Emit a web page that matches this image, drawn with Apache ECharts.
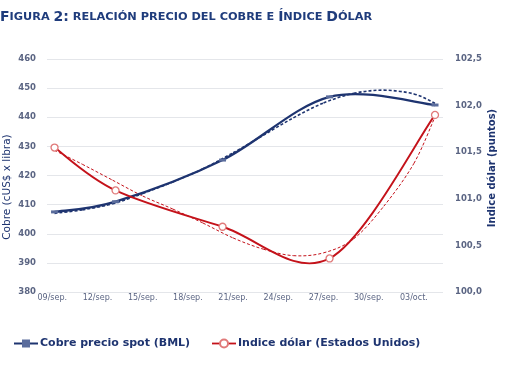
<!DOCTYPE html>
<html>
<head>
<meta charset="utf-8">
<script src="https://cdn.jsdelivr.net/npm/echarts@6/dist/echarts.min.js"></script>
<style>html,body{margin:0;padding:0;background:#fff;}#c{width:510px;height:382px;}</style>
</head>
<body>
<div id="c"></div>
<script>
// Tick labels (every 3 days starting 09/sep)
const tickDays = [0, 3, 6, 9, 12, 15, 18, 21, 24];
const tickLabels = ['09/sep.', '12/sep.', '15/sep.', '18/sep.', '21/sep.', '24/sep.', '27/sep.', '30/sep.', '03/oct.'];
const obsDays = [0.15, 4.2, 11.3, 18.4, 25.4];
const cobre = [407.5, 411.0, 425.3, 447.0, 444.2];
const dolar = [101.55, 101.09, 100.70, 100.36, 101.90];
// Trend lines
const trendDays = [0.15, 2, 4, 6, 8, 10, 12, 14, 16, 18, 20, 22, 24, 25.4];
const cobreTrend = [407.0, 408.2, 410.3, 413.8, 417.8, 422.3, 427.8, 433.8, 439.8, 444.9, 448.2, 449.3, 448.0, 444.8];
const dolarTrend = [101.52, 101.37, 101.20, 101.03, 100.89, 100.74, 100.58, 100.46, 100.39, 100.42, 100.57, 100.92, 101.38, 101.88];

const zip = (xs, ys) => xs.map((x, i) => [x, ys[i]]);
const navy = '#1e3470';
const red = '#c4121a';
const lblColor = '#5b6583';
const titleColor = '#1f3c7c';

// Excel-style smoothed line (Catmull-Rom through the data points, converted by the axes)
function smoothCurve(xs, ys, lineStyle) {
  return function (params, api) {
    if (params.dataIndex !== 0) return null;
    const p = xs.map((x, i) => api.coord([x, ys[i]]));
    const children = [];
    for (let i = 0; i < p.length - 1; i++) {
      const p0 = p[Math.max(i - 1, 0)], p1 = p[i], p2 = p[i + 1], p3 = p[Math.min(i + 2, p.length - 1)];
      children.push({
        type: 'bezierCurve',
        shape: {
          x1: p1[0], y1: p1[1], x2: p2[0], y2: p2[1],
          cpx1: p1[0] + (p2[0] - p0[0]) / 6, cpy1: p1[1] + (p2[1] - p0[1]) / 6,
          cpx2: p2[0] - (p3[0] - p1[0]) / 6, cpy2: p2[1] - (p3[1] - p1[1]) / 6
        },
        style: Object.assign({fill: null}, lineStyle)
      });
    }
    return {type: 'group', children: children};
  };
}

const chart = echarts.init(document.getElementById('c'), null, {renderer: 'canvas'});
chart.setOption({
  animation: false,
  backgroundColor: '#fff',
  textStyle: {fontFamily: 'DejaVu Sans'},
  graphic: [
    {type: 'text', left: 0, top: 10, style: {
      text: '{b|F}{s|IGURA }{b|2:}{s| RELACIÓN PRECIO DEL COBRE E }{b|Í}{s|NDICE }{b|D}{s|ÓLAR}',
      rich: {
        b: {fontSize: 14, fontWeight: 'bold', fill: titleColor, fontFamily: 'DejaVu Sans'},
        s: {fontSize: 11.3, fontWeight: 'bold', fill: titleColor, fontFamily: 'DejaVu Sans'}
      }
    }},
    {type: 'text', x: 7, y: 187, rotation: Math.PI / 2, style: {
      text: 'Cobre (cUS$ x libra)', fill: navy, fontSize: 10.5, fontFamily: 'DejaVu Sans',
      align: 'center', verticalAlign: 'middle'}},
    {type: 'text', x: 492, y: 168, rotation: Math.PI / 2, style: {
      text: 'Indice dólar (puntos)', fill: navy, fontSize: 10, fontWeight: 'bold', fontFamily: 'DejaVu Sans',
      align: 'center', verticalAlign: 'middle'}}
  ],
  legend: {
    data: [
      {name: 'Cobre precio spot (BML)', lineStyle: {color: navy, width: 2, opacity: 1}},
      {name: 'Indice dólar (Estados Unidos)', lineStyle: {color: red, width: 1.8, opacity: 1}}
    ],
    left: 8, top: 333, itemWidth: 24, itemHeight: 10, itemGap: 21,
    textStyle: {color: navy, fontWeight: 'bold', fontSize: 11, fontFamily: 'DejaVu Sans', padding: [0, 0, 0, -3]}
  },
  grid: {left: 47, right: 67, top: 59, bottom: 90},
  xAxis: {
    type: 'value', min: -0.35, max: 25.93,
    axisLine: {show: false}, axisTick: {show: false}, splitLine: {show: false},
    axisLabel: {
      customValues: tickDays, color: lblColor, fontSize: 8, margin: 2,
      formatter: v => tickLabels[tickDays.indexOf(v)] || ''
    }
  },
  yAxis: [
    {type: 'value', min: 380, max: 460, interval: 10,
      axisLine: {show: false}, axisTick: {show: false},
      splitLine: {lineStyle: {color: '#e4e6ea', width: 1}},
      axisLabel: {color: lblColor, fontSize: 8.5, fontWeight: 'bold', margin: 11}},
    {type: 'value', min: 100, max: 102.5, interval: 0.5,
      axisLine: {show: false}, axisTick: {show: false}, splitLine: {show: false},
      axisLabel: {color: lblColor, fontSize: 8.5, fontWeight: 'bold', margin: 12,
        formatter: v => v.toFixed(1).replace('.', ',')}}
  ],
  series: [
    {name: 'cobreTrend', type: 'custom', data: zip(trendDays, cobreTrend),
      renderItem: smoothCurve(trendDays, cobreTrend, {stroke: navy, lineWidth: 1.6, lineDash: [3, 2]}), z: 3},
    {name: 'dolarTrend', type: 'custom', yAxisIndex: 1, data: zip(trendDays, dolarTrend),
      renderItem: smoothCurve(trendDays, dolarTrend, {stroke: red, lineWidth: 1, lineDash: [3, 2]}), z: 3},
    {name: 'cobreCurve', type: 'custom', data: zip(obsDays, cobre),
      renderItem: smoothCurve(obsDays, cobre, {stroke: navy, lineWidth: 2.3}), z: 4},
    {name: 'dolarCurve', type: 'custom', yAxisIndex: 1, data: zip(obsDays, dolar),
      renderItem: smoothCurve(obsDays, dolar, {stroke: red, lineWidth: 1.9}), z: 4},
    {name: 'Cobre precio spot (BML)', type: 'line', data: zip(obsDays, cobre),
      symbol: 'rect', symbolSize: [7, 3], itemStyle: {color: '#5a6c9c'},
      lineStyle: {color: navy, width: 2, opacity: 0}, z: 6},
    {name: 'Indice dólar (Estados Unidos)', type: 'line', yAxisIndex: 1, data: zip(obsDays, dolar),
      symbol: 'circle', symbolSize: 7, itemStyle: {color: '#fff', borderColor: '#e07a7a', borderWidth: 1.3},
      lineStyle: {color: red, width: 1.8, opacity: 0}, z: 6}
  ]
});
</script>
</body>
</html>
